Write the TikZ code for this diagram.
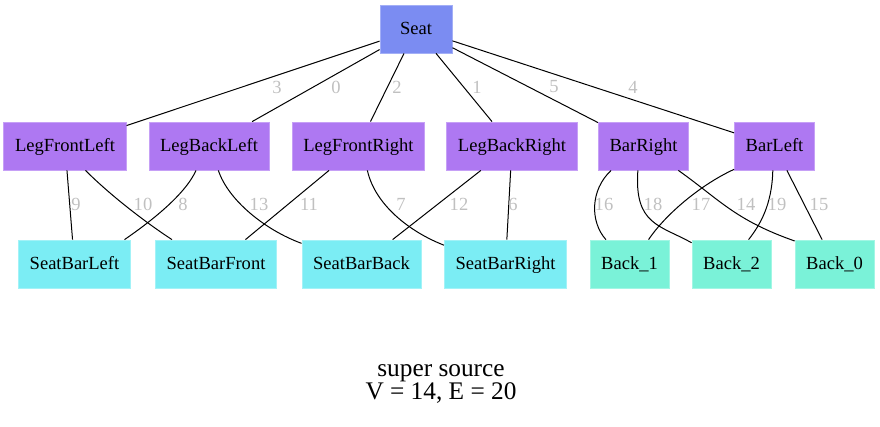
\documentclass[tikz,border=0pt]{standalone}
\usepackage{fontspec}
\setmainfont{Liberation Serif}
\usetikzlibrary{positioning}

\definecolor{seatblue}{HTML}{7B8CF2}
\definecolor{legpurple}{HTML}{AE78F2}
\definecolor{barcyan}{HTML}{7BEDF4}
\definecolor{backgreen}{HTML}{7AF2D8}
\definecolor{lblgray}{HTML}{C0C0C0}

\tikzset{
  part/.style={rectangle, minimum height=36pt, minimum width=54pt, inner xsep=8.4pt,
    text height=11pt, text depth=2.8pt,
    line width=0.6pt, font=\fontsize{13.9}{16}\selectfont},
  seatpart/.style={part, fill=seatblue, draw=seatblue!70!white},
  legpart/.style={part, fill=legpurple, draw=legpurple!70!white},
  barpart/.style={part, fill=barcyan, draw=barcyan!70!white},
  backpart/.style={part, fill=backgreen, draw=backgreen!70!white},
  elbl/.style={text=lblgray, inner sep=0pt, font=\fontsize{13.9}{16}\selectfont},
  link/.style={line width=0.75pt}
}

\begin{document}
\begin{tikzpicture}[x=0.75pt,y=0.75pt,yscale=-1,xscale=1]
\useasboundingbox (0,0) rectangle (880,427);

% Nodes
\node[seatpart] (Seat) at (416,29) {Seat};

\node[legpart] (LegFrontLeft) at (65,146) {LegFrontLeft};
\node[legpart] (LegBackLeft) at (209,146) {LegBackLeft};
\node[legpart] (LegFrontRight) at (358.5,146) {LegFrontRight};
\node[legpart] (LegBackRight) at (512,146) {LegBackRight};
\node[legpart] (BarRight) at (643.5,146) {BarRight};
\node[legpart] (BarLeft) at (774.5,146) {BarLeft};

\node[barpart] (SeatBarLeft) at (74.5,264) {SeatBarLeft};
\node[barpart] (SeatBarFront) at (216,264) {SeatBarFront};
\node[barpart] (SeatBarBack) at (361.5,264) {SeatBarBack};
\node[barpart] (SeatBarRight) at (505.5,264) {SeatBarRight};
\node[backpart] (Back_1) at (629.5,264) {Back\_1};
\node[backpart] (Back_2) at (731.5,264) {Back\_2};
\node[backpart] (Back_0) at (834.5,264) {Back\_0};

% Edges from Seat
\draw[link] (Seat) -- (LegFrontLeft);
\draw[link] (Seat) -- (LegBackLeft);
\draw[link] (Seat) -- (LegFrontRight);
\draw[link] (Seat) -- (LegBackRight);
\draw[link] (Seat) -- (BarRight);
\draw[link] (Seat) -- (BarLeft);

% Edges to the seat bars
\draw[link] (LegFrontLeft) -- (SeatBarLeft);
\draw[link] (LegFrontLeft.-50) .. controls (110,195) and (145,222) .. (SeatBarFront.151);
\draw[link] (LegBackLeft.-118) .. controls (185,195) and (150,222) .. (SeatBarLeft.26);
\draw[link] (LegBackLeft.-69) .. controls (228,200) and (265,230) .. (SeatBarBack.161);
\draw[link] (LegFrontRight) -- (SeatBarFront);
\draw[link] (LegFrontRight.-70) .. controls (375,205) and (410,232) .. (SeatBarRight.163);
\draw[link] (LegBackRight) -- (SeatBarBack);
\draw[link] (LegBackRight) -- (SeatBarRight);

% Edges to the backs
\draw[link] (BarRight.-143) .. controls (590,190) and (590,222) .. (Back_1.134);
\draw[link] (BarRight.-103) .. controls (634,225) and (660,225) .. (Back_2.152);
\draw[link] (BarRight.-35) .. controls (720,200) and (735,220) .. (Back_0.150);
\draw[link] (BarLeft.-150) .. controls (700,185) and (665,215) .. (Back_1.52);
\draw[link] (BarLeft.-94) .. controls (772,205) and (760,225) .. (Back_2.55);
\draw[link] (BarLeft) -- (Back_0);

% Edge labels
\node[elbl] (l3) at (277,87) {3};
\node[elbl] (l0) at (336,87) {0};
\node[elbl] (l2) at (397,87) {2};
\node[elbl] (l1) at (477,87) {1};
\node[elbl] (l5) at (554,87) {5};
\node[elbl] (l4) at (633,87) {4};
\node[elbl] (l9) at (76,204) {9};
\node[elbl] (l10) at (143,204) {10};
\node[elbl] (l8) at (183,204) {8};
\node[elbl] (l13) at (259,204) {13};
\node[elbl] (l11) at (309,204) {11};
\node[elbl] (l7) at (401,204) {7};
\node[elbl] (l12) at (459,204) {12};
\node[elbl] (l6) at (513,204) {6};
\node[elbl] (l16) at (604,204) {16};
\node[elbl] (l18) at (653,204) {18};
\node[elbl] (l17) at (701,204) {17};
\node[elbl] (l14) at (746,204) {14};
\node[elbl] (l19) at (777,204) {19};
\node[elbl] (l15) at (819,204) {15};

% Text Node
\node[align=center, inner sep=0pt, font=\fontsize{19}{14.3}\selectfont] (caption) at (441,384) {super source\\V = 14, E = 20};

\end{tikzpicture}
\end{document}
